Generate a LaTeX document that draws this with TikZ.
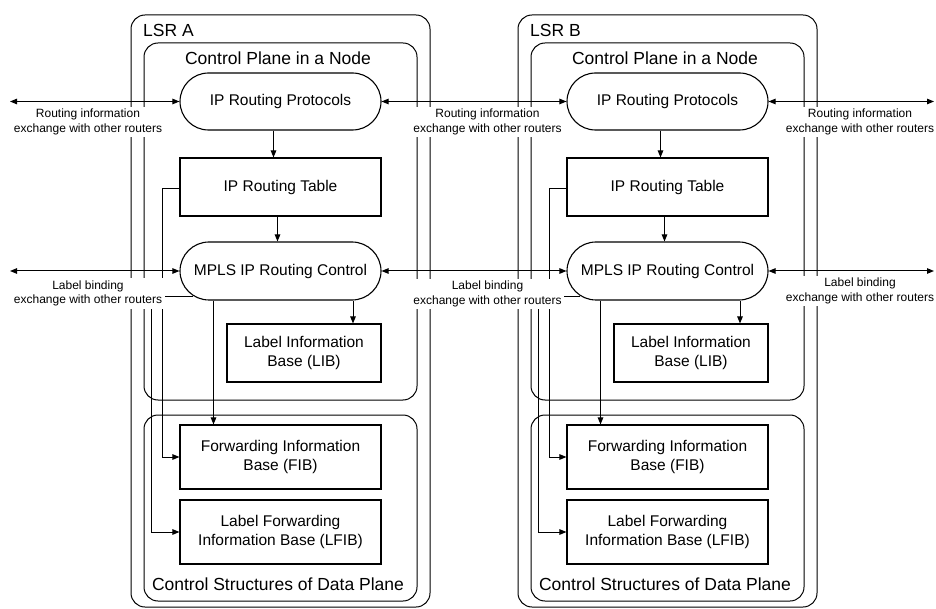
\documentclass[tikz,border=0pt]{standalone}
\usepackage{fontspec}
\setmainfont{Liberation Sans}
\usetikzlibrary{arrows.meta,shapes.misc}
\newcommand\nodefont{\fontsize{15.5}{19}\selectfont}
\newcommand\titlefont{\fontsize{17.5}{20}\selectfont}
\newcommand\smallfont{\fontsize{12}{14.5}\selectfont}
\tikzset{
 frame/.style={draw, line width=1pt, rounded corners=14pt, inner sep=0pt},
 boxnode/.style={draw, line width=1.1pt, rectangle, inner sep=0pt, align=center, font=\nodefont},
 pill/.style={draw, line width=1.1pt, rounded rectangle, inner sep=0pt, font=\nodefont},
 arr/.style={line width=1pt, -{Triangle[length=7pt,width=5.5pt]}},
 dbl/.style={line width=1pt, {Triangle[length=7pt,width=5.5pt]}-{Triangle[length=7pt,width=5.5pt]}},
 lab/.style={fill=white, inner sep=2.5pt, align=center, font=\smallfont},
 ttl/.style={font=\titlefont, inner sep=0pt},
}
\newcommand\drawlsr[2]{%
\begin{scope}[xshift=#2pt]
\node[frame, minimum width=299pt, minimum height=592pt] (lsr#1) at (280.5,311) {};
\node[frame, minimum width=273pt, minimum height=357pt] (cp#1) at (280.5,221.5) {};
\node[frame, minimum width=273pt, minimum height=186pt] (dp#1) at (280.5,508) {};
\node[ttl, anchor=base west] (tl#1) at (143,37) {LSR #1};
\node[ttl, anchor=base] (tc#1) at (278,65) {Control Plane in a Node};
\node[ttl, anchor=base] (td#1) at (278,590) {Control Structures of Data Plane};
\node[pill, minimum width=201pt, minimum height=57pt] (iprp#1) at (280.5,101.5) {IP Routing Protocols};
\node[boxnode, minimum width=201pt, minimum height=58pt] (iprt#1) at (280.5,187) {IP Routing Table};
\node[pill, minimum width=201pt, minimum height=58pt] (mpls#1) at (280.5,271) {MPLS IP Routing Control};
\node[boxnode, minimum width=154pt, minimum height=58pt] (lib#1) at (304,353) {Label Information\\Base (LIB)};
\node[boxnode, minimum width=201pt, minimum height=64pt] (fib#1) at (280.5,457) {Forwarding Information\\Base (FIB)};
\node[boxnode, minimum width=201pt, minimum height=64pt] (lfib#1) at (280.5,532) {Label Forwarding\\Information Base (LFIB)};
\draw[arr] ([xshift=-7pt]iprp#1.south) -- ([xshift=-7pt]iprt#1.north);
\draw[arr] ([xshift=-3pt]iprt#1.south) -- ([xshift=-3pt]mpls#1.north);
\draw[arr] ([xshift=49pt]lib#1.north |- mpls#1.south) -- ([xshift=49pt]lib#1.north);
\draw[arr] ([xshift=-67pt]fib#1.north |- mpls#1.south) -- ([xshift=-67pt]fib#1.north);
\draw[arr] ([yshift=-2pt]iprt#1.west) -| ([xshift=-17pt]fib#1.west) -- (fib#1.west);
\draw[arr] (mpls#1.196) -| ([xshift=-28pt]lfib#1.west) -- (lfib#1.west);
\end{scope}}
\begin{document}
\begin{tikzpicture}[x=1pt,y=-1pt]
\useasboundingbox (0,0) rectangle (936,609);
\drawlsr{A}{0}
\drawlsr{B}{387}
\coordinate (lend1) at (10,101.5);
\coordinate (rend1) at (934,101.5);
\coordinate (lend2) at (10,271);
\coordinate (rend2) at (934,271);
\draw[dbl] (lend1) -- (iprpA.west);
\draw[dbl] (iprpA.east) -- (iprpB.west);
\draw[dbl] (iprpB.east) -- (rend1);
\draw[dbl] (lend2) -- (mplsA.west);
\draw[dbl] (mplsA.east) -- (mplsB.west);
\draw[dbl] (mplsB.east) -- (rend2);
\node[lab] (l1) at (88,122) {Routing information\\exchange with other routers};
\node[lab] (l2) at (487.5,122) {Routing information\\exchange with other routers};
\node[lab] (l3) at (860,122) {Routing information\\exchange with other routers};
\node[lab] (l4) at (88,293.5) {Label binding\\exchange with other routers};
\node[lab] (l5) at (487.5,294) {Label binding\\exchange with other routers};
\node[lab] (l6) at (860,291) {Label binding\\exchange with other routers};
\end{tikzpicture}
\end{document}
